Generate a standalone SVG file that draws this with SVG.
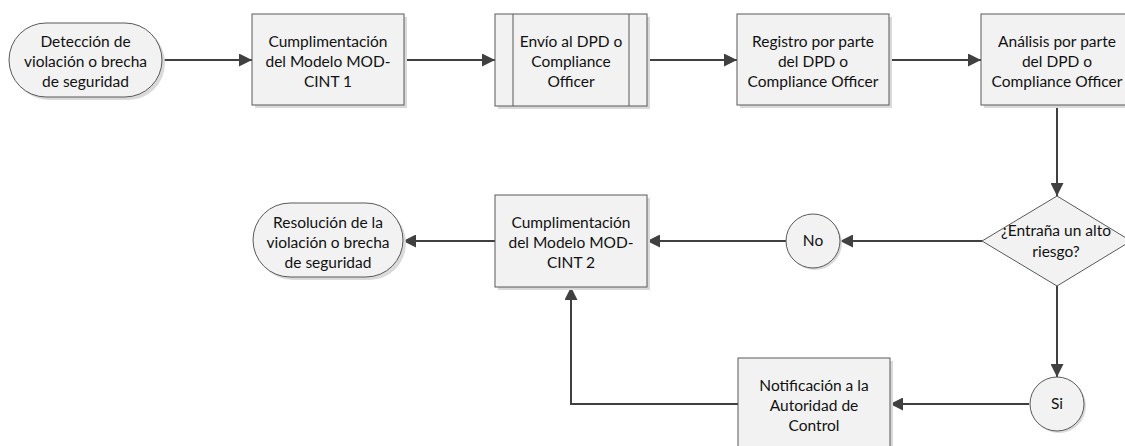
<svg xmlns="http://www.w3.org/2000/svg" width="1125" height="446" viewBox="0 0 1125 446">
<defs>
<marker id="arr" markerWidth="14" markerHeight="13" refX="13" refY="6.5" orient="auto" markerUnits="userSpaceOnUse"><path d="M0,0 L13,6.5 L0,13 Z" fill="#404040"/></marker>
<style>
.shape{fill:#f2f2f2;stroke:#595959;stroke-width:1}
.shadow{fill:#dadada}
.line{fill:none;stroke:#404040;stroke-width:2;marker-end:url(#arr)}
text{font-family:"Lato","Liberation Sans",sans-serif;font-size:15.5px;fill:#111;text-anchor:middle}
</style>
</defs>
<rect width="1125" height="446" fill="#fff"/>
<g id="connectors">
<path class="line" d="M162,60 H252"/>
<path class="line" d="M404,60 H495"/>
<path class="line" d="M647,60 H737"/>
<path class="line" d="M889,60 H981"/>
<path class="line" d="M1057,105 V196"/>
<path class="line" d="M982,241 H840"/>
<path class="line" d="M786,241 H647"/>
<path class="line" d="M495,241 H403"/>
<path class="line" d="M1057,286 V377"/>
<path class="line" d="M1029,404 H890"/>
<path class="line" d="M738,404 H571 V287"/>
</g>
<g id="start">
<rect class="shadow" x="12" y="26" width="153" height="74" rx="37"/>
<rect class="shape" x="9" y="23" width="153" height="74" rx="37"/>
<text x="85.5" y="47">Detección de</text>
<text x="85.5" y="67">violación o brecha</text>
<text x="85.5" y="87">de seguridad</text>
</g>
<g id="mod1">
<rect class="shadow" x="255" y="17" width="152" height="91"/>
<rect class="shape" x="252" y="14" width="152" height="91"/>
<text x="328" y="47">Cumplimentación</text>
<text x="328" y="67">del Modelo MOD-</text>
<text x="328" y="87">CINT 1</text>
</g>
<g id="envio">
<rect class="shadow" x="498" y="17" width="152" height="92"/>
<rect class="shape" x="495" y="14" width="152" height="92"/>
<path d="M513,14 V106 M629,14 V106" stroke="#595959" stroke-width="1"/>
<text x="571" y="47">Envío al DPD o</text>
<text x="571" y="67">Compliance</text>
<text x="571" y="87">Officer</text>
</g>
<g id="registro">
<rect class="shadow" x="740" y="17" width="152" height="91"/>
<rect class="shape" x="737" y="14" width="152" height="91"/>
<text x="813" y="47">Registro por parte</text>
<text x="813" y="67">del DPD o</text>
<text x="813" y="87">Compliance Officer</text>
</g>
<g id="analisis">
<rect class="shadow" x="984" y="17" width="152" height="91"/>
<rect class="shape" x="981" y="14" width="152" height="91"/>
<text x="1057" y="47">Análisis por parte</text>
<text x="1057" y="67">del DPD o</text>
<text x="1057" y="87">Compliance Officer</text>
</g>
<g id="decision">
<polygon class="shape" points="1057,196 1131,241 1057,286 982,241"/>
<text x="1056" y="236">¿Entraña un alto</text>
<text x="1056" y="257">riesgo?</text>
</g>
<g id="no">
<circle class="shadow" cx="815" cy="243" r="27"/>
<circle class="shape" cx="813" cy="241" r="27"/>
<text x="813" y="246">No</text>
</g>
<g id="mod2">
<rect class="shadow" x="498" y="198" width="152" height="92"/>
<rect class="shape" x="495" y="195" width="152" height="92"/>
<text x="571" y="228">Cumplimentación</text>
<text x="571" y="248">del Modelo MOD-</text>
<text x="571" y="268">CINT 2</text>
</g>
<g id="resolucion">
<rect class="shadow" x="256" y="206" width="150" height="74" rx="37"/>
<rect class="shape" x="253" y="203" width="150" height="74" rx="37"/>
<text x="328" y="228">Resolución de la</text>
<text x="328" y="248">violación o brecha</text>
<text x="328" y="268">de seguridad</text>
</g>
<g id="si">
<circle class="shadow" cx="1059" cy="406" r="27"/>
<circle class="shape" cx="1057" cy="404" r="27"/>
<text x="1057" y="409">Si</text>
</g>
<g id="notificacion">
<rect class="shadow" x="741" y="361" width="152" height="91"/>
<rect class="shape" x="738" y="358" width="152" height="91"/>
<text x="814" y="391">Notificación a la</text>
<text x="814" y="411">Autoridad de</text>
<text x="814" y="431">Control</text>
</g>
</svg>
